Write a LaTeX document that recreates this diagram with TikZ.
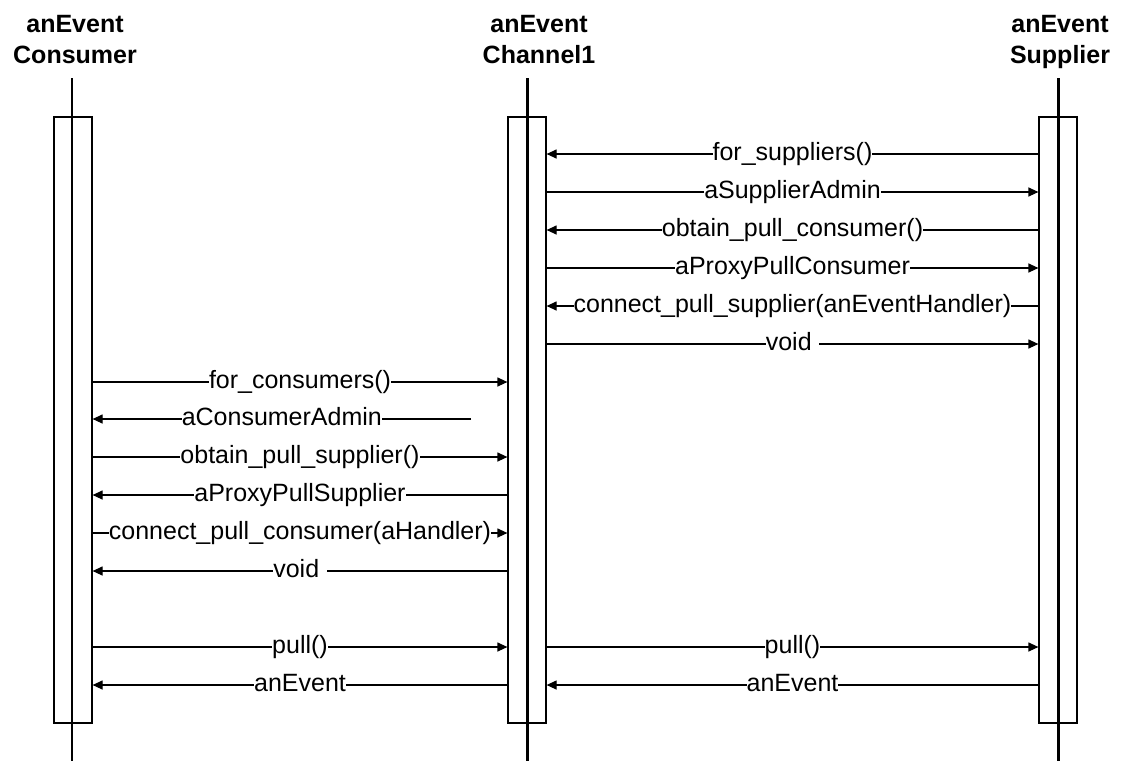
\documentclass[tikz,border=0pt]{standalone}
\usepackage{fontspec}
\setmainfont{Liberation Sans}
\usetikzlibrary{arrows.meta}
\begin{document}
\begin{tikzpicture}[x=1pt,y=-1pt,
  thin line/.style={line width=1.2pt},
  thick line/.style={line width=3pt},
  msg/.style={line width=1.2pt, -{Triangle[length=10pt,width=9pt]}},
  lbl/.style={fill=white, inner xsep=0pt, inner ysep=0pt, text height=19pt, text depth=5.5pt, font=\fontsize{25}{30}\selectfont},
  hdr/.style={font=\bfseries\fontsize{25}{31}\selectfont, align=center, inner sep=0pt, anchor=north},
  act/.style={draw, line width=1.2pt, fill=white, minimum width=38pt, minimum height=606pt, inner sep=0pt},
]
\useasboundingbox (0,0) rectangle (1121,761);
% headers
\node[hdr] (h1) at (75,15) {anEvent\\Consumer};
\node[hdr] (h2) at (539,15) {anEvent\\Channel1};
\node[hdr] (h3) at (1060,15) {anEvent\\Supplier};
% activation boxes
\node[act] (b1) at (73,420) {};
\node[act] (b2) at (527,420) {};
\node[act] (b3) at (1058,420) {};
% lifelines
\coordinate (t1) at (72,78);  \coordinate (e1) at (72,761);
\coordinate (t2) at (527,78); \coordinate (e2) at (527,761);
\coordinate (t3) at (1058,78); \coordinate (e3) at (1058,761);
\draw[thin line] (t1) -- (e1);
\draw[thick line] (t2) -- (e2);
\draw[thick line] (t3) -- (e3);
% rows
\coordinate (r1) at (0,154);
\coordinate (r2) at (0,192);
\coordinate (r3) at (0,230);
\coordinate (r4) at (0,268);
\coordinate (r5) at (0,306);
\coordinate (r6) at (0,344);
\coordinate (r7) at (0,382);
\coordinate (r8) at (0,419);
\coordinate (r9) at (0,457);
\coordinate (r10) at (0,495);
\coordinate (r11) at (0,533);
\coordinate (r12) at (0,571);
\coordinate (r13) at (0,647);
\coordinate (r14) at (0,685);
\coordinate (ca) at (471,419);
% channel <-> supplier
\draw[msg] (b3.west|-r1) -- (b2.east|-r1) node[lbl,pos=0.5]{for\_suppliers()};
\draw[msg] (b2.east|-r2) -- (b3.west|-r2) node[lbl,pos=0.5]{aSupplierAdmin};
\draw[msg] (b3.west|-r3) -- (b2.east|-r3) node[lbl,pos=0.5]{obtain\_pull\_consumer()};
\draw[msg] (b2.east|-r4) -- (b3.west|-r4) node[lbl,pos=0.5]{aProxyPullConsumer};
\draw[msg] (b3.west|-r5) -- (b2.east|-r5) node[lbl,pos=0.5]{connect\_pull\_supplier(anEventHandler)};
\draw[msg] (b2.east|-r6) -- (b3.west|-r6) node[lbl,pos=0.5]{void\kern0.3em};
% consumer <-> channel
\draw[msg] (b1.east|-r7) -- (b2.west|-r7) node[lbl,pos=0.5]{for\_consumers()};
\draw[msg] (ca) -- (b1.east|-ca) node[lbl,pos=0.5]{aConsumerAdmin};
\draw[msg] (b1.east|-r9) -- (b2.west|-r9) node[lbl,pos=0.5]{obtain\_pull\_supplier()};
\draw[msg] (b2.west|-r10) -- (b1.east|-r10) node[lbl,pos=0.5]{aProxyPullSupplier};
\draw[msg] (b1.east|-r11) -- (b2.west|-r11) node[lbl,pos=0.5]{connect\_pull\_consumer(aHandler)};
\draw[msg] (b2.west|-r12) -- (b1.east|-r12) node[lbl,pos=0.5]{void\kern0.3em};
% pull / anEvent
\draw[msg] (b1.east|-r13) -- (b2.west|-r13) node[lbl,pos=0.5]{pull()};
\draw[msg] (b2.east|-r13) -- (b3.west|-r13) node[lbl,pos=0.5]{pull()};
\draw[msg] (b2.west|-r14) -- (b1.east|-r14) node[lbl,pos=0.5]{anEvent};
\draw[msg] (b3.west|-r14) -- (b2.east|-r14) node[lbl,pos=0.5]{anEvent};
\end{tikzpicture}
\end{document}
